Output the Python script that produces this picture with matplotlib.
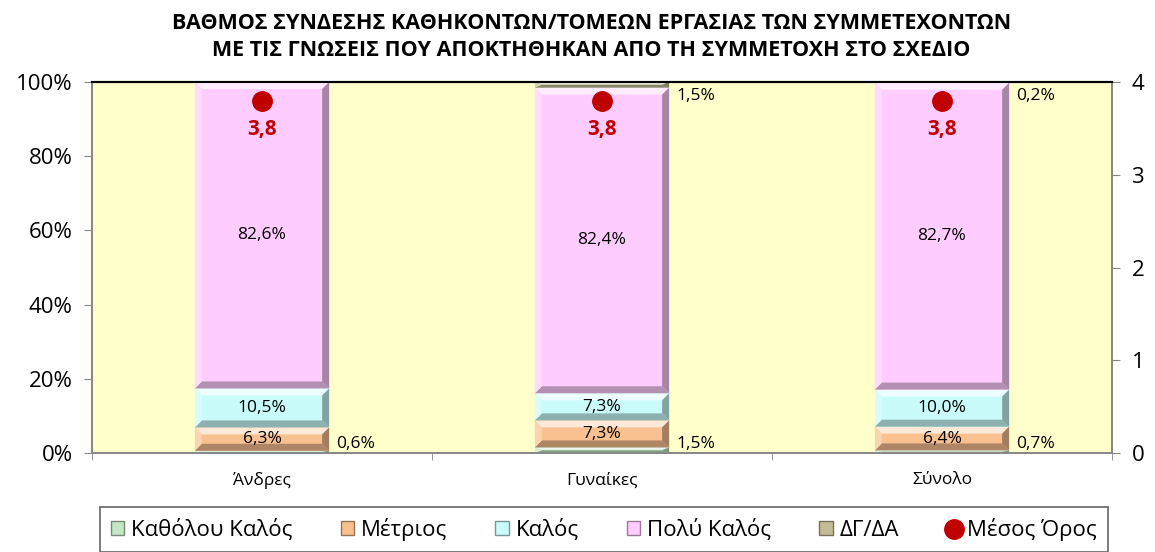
import numpy as np
import matplotlib.pyplot as plt
import matplotlib.colors as mcolors
from matplotlib.patches import Polygon, Patch
from matplotlib.lines import Line2D
from matplotlib.ticker import FuncFormatter

plt.rcParams['font.family'] = ['Open Sans', 'DejaVu Sans']

# data (percent)
categories = ['Άνδρες', 'Γυναίκες', 'Σύνολο']
series_names = ['Καθόλου Καλός', 'Μέτριος', 'Καλός', 'Πολύ Καλός', 'ΔΓ/ΔΑ']
katholou = [0.6, 1.5, 0.7]
metrios = [6.3, 7.3, 6.4]
kalos = [10.5, 7.3, 10.0]
poly_kalos = [82.6, 82.4, 82.7]
dg_da = [0.0, 1.5, 0.2]
mesos_oros = [3.8, 3.8, 3.8]

colors = ['#C4E8C4', '#F9C090', '#C9FBFB', '#FFCCFF', '#C4BC96']
title = ('ΒΑΘΜΟΣ ΣΥΝΔΕΣΗΣ ΚΑΘΗΚΟΝΤΩΝ/ΤΟΜΕΩΝ ΕΡΓΑΣΙΑΣ ΤΩΝ ΣΥΜΜΕΤΕΧΟΝΤΩΝ\n'
         'ΜΕ ΤΙΣ ΓΝΩΣΕΙΣ ΠΟΥ ΑΠΟΚΤΗΘΗΚΑΝ ΑΠΟ ΤΗ ΣΥΜΜΕΤΟΧΗ ΣΤΟ ΣΧΕΔΙΟ')


def mix(c, other, t):
    a = np.array(mcolors.to_rgb(c))
    b = np.array(mcolors.to_rgb(other))
    return tuple(a * (1 - t) + b * t)


def pct(v):
    return f"{v:.1f}".replace('.', ',') + '%'


def add_bevel(ax, rect, color, px=7):
    x0, y0, w, h = rect.get_x(), rect.get_y(), rect.get_width(), rect.get_height()
    if h <= 0:
        return
    bb = ax.get_window_extent()
    xl, yl = ax.get_xlim(), ax.get_ylim()
    dx = px * (xl[1] - xl[0]) / bb.width
    dy = px * (yl[1] - yl[0]) / bb.height
    bx, by = min(dx, w / 2), min(dy, h / 2)
    x1, y1 = x0 + w, y0 + h
    BL, BR, TR, TL = (x0, y0), (x1, y0), (x1, y1), (x0, y1)
    iBL, iBR, iTR, iTL = (x0 + bx, y0 + by), (x1 - bx, y0 + by), (x1 - bx, y1 - by), (x0 + bx, y1 - by)
    faces = [([TL, TR, iTR, iTL], mix(color, 'white', 0.65)),
             ([BL, BR, iBR, iBL], mix(color, 'black', 0.3)),
             ([BL, TL, iTL, iBL], mix(color, 'white', 0.3)),
             ([BR, TR, iTR, iBR], mix(color, 'black', 0.35))]
    for pts, c in faces:
        ax.add_patch(Polygon(pts, closed=True, facecolor=c, edgecolor='none', zorder=3))


fig = plt.figure(figsize=(11.55, 5.52), dpi=100)
ax = fig.add_axes([92 / 1155, 1 - 453 / 552, 1020 / 1155, 371 / 552])
ax.set_facecolor('#FFFFCC')
ax.set_xlim(-0.5, 2.5)
ax.set_ylim(0, 100)

x = np.arange(len(categories))
width = 0.395
series = [katholou, metrios, kalos, poly_kalos, dg_da]
bottom = np.zeros(len(categories))
for name, vals, col in zip(series_names, series, colors):
    vals = np.array(vals)
    bars = ax.bar(x, vals, width, bottom=bottom, color=col, edgecolor='none', zorder=2, label=name)
    for rect in bars:
        add_bevel(ax, rect, col)
    for i, rect in enumerate(bars):
        v = vals[i]
        if v <= 0:
            continue
        if name == 'Καθόλου Καλός':
            ax.annotate(pct(v), (rect.get_x() + rect.get_width(), 0), xytext=(5, 1),
                        textcoords='offset points', ha='left', va='bottom', fontsize=12.5, zorder=5)
        elif name == 'ΔΓ/ΔΑ':
            ax.annotate(pct(v), (rect.get_x() + rect.get_width(), 100), xytext=(5, -4),
                        textcoords='offset points', ha='left', va='top', fontsize=12.5, zorder=5)
        else:
            ax.text(rect.get_x() + rect.get_width() / 2, rect.get_y() + v / 2, pct(v),
                    ha='center', va='center', fontsize=12.5, zorder=5)
    bottom = bottom + vals

ax.yaxis.set_major_formatter(FuncFormatter(lambda v, p: f"{v:.0f}%"))
ax.set_yticks(np.arange(0, 101, 20))
ax.set_xticks(x)
ax.set_xticklabels(categories, fontsize=12.5)
ax.set_xticks([-0.5, 0.5, 1.5, 2.5], minor=True)
ax.tick_params(axis='x', which='major', length=0, pad=14)
ax.tick_params(axis='x', which='minor', length=5, color='#868686')
ax.tick_params(axis='y', labelsize=16, length=6, color='#868686', pad=8)

ax2 = ax.twinx()
ax2.set_ylim(0, 4)
ax2.set_yticks(np.arange(0, 5, 1))
ax2.tick_params(axis='y', labelsize=16, length=6, color='#868686', pad=8)
ax2.plot(x, mesos_oros, 'o', color='#C00000', ms=14, linestyle='none', zorder=6, label='Μέσος Όρος')
for xi, m in zip(x, mesos_oros):
    ax2.annotate(f"{m:.1f}".replace('.', ','), (xi, m), xytext=(0, -21), textcoords='offset points',
                 ha='center', va='center', fontsize=15, fontweight='bold', color='#C00000')

for a in (ax, ax2):
    for s in ('left', 'right', 'bottom'):
        a.spines[s].set_color('#868686')
        a.spines[s].set_linewidth(1.2)
    a.spines['top'].set_color('black')
    a.spines['top'].set_linewidth(1.5)

fig.text(0.512, 1 - 37 / 552, title, ha='center', va='center', fontsize=15.5,
         fontweight='bold', linespacing=1.35)

handles = [Patch(facecolor=c, edgecolor=mix(c, 'black', 0.4), label=n) for n, c in zip(series_names, colors)]
handles.append(Line2D([], [], marker='o', color='#C00000', linestyle='none', ms=14, label='Μέσος Όρος'))
leg = fig.legend(handles=handles, loc='upper left', ncol=6, mode='expand',
                 bbox_to_anchor=(100 / 1155, 1 - 507 / 552 - 0.1, 1008 / 1155, 0.1), fontsize=16,
                 frameon=True, fancybox=False, handlelength=0.6, handleheight=0.6,
                 handletextpad=0.3, borderaxespad=0, borderpad=0.5)
leg.get_frame().set_edgecolor('#404040')
leg.get_frame().set_linewidth(1.2)

fig.savefig('out.png', dpi=100)
